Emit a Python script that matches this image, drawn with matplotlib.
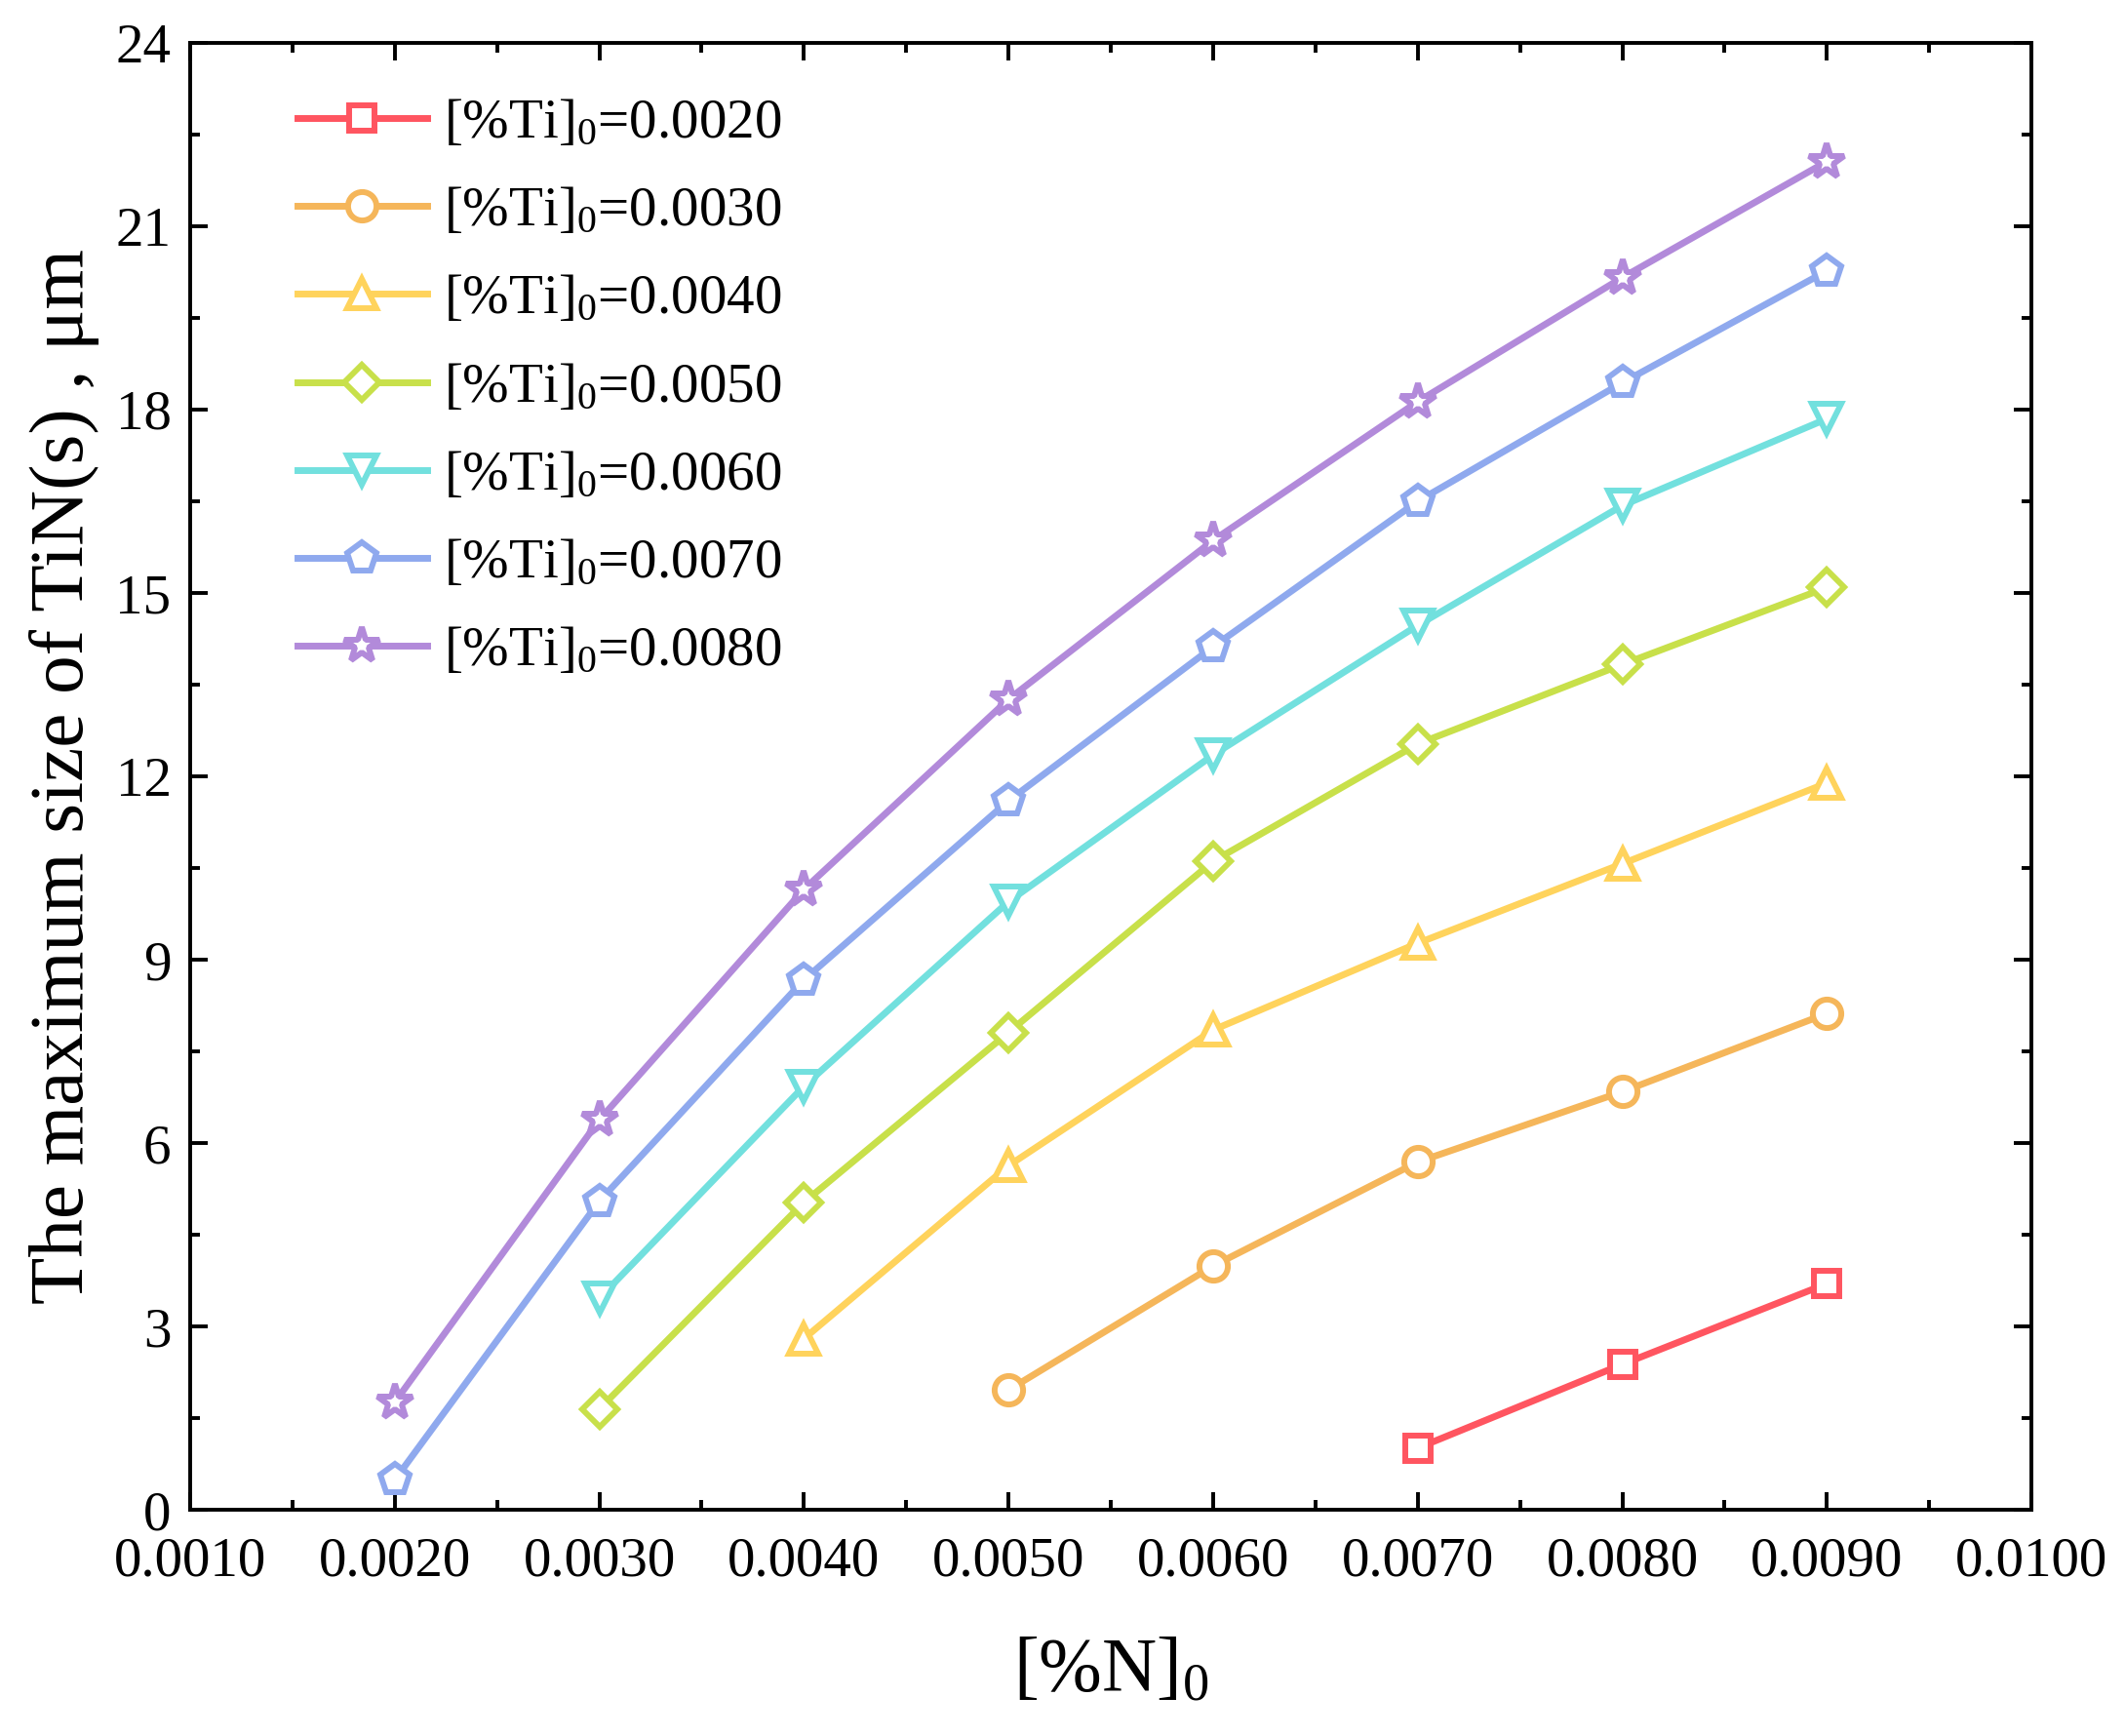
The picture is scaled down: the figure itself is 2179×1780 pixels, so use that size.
import matplotlib
matplotlib.use("Agg")
import matplotlib.pyplot as plt
from matplotlib.ticker import MultipleLocator, FormatStrFormatter

plt.rcParams['font.family'] = ['Liberation Serif', 'DejaVu Serif']
plt.rcParams['mathtext.fontset'] = 'custom'
plt.rcParams['mathtext.rm'] = 'Liberation Serif'
plt.rcParams['mathtext.it'] = 'Liberation Serif:italic'

# dati
n0 = [0.002, 0.003, 0.004, 0.005, 0.006, 0.007, 0.008, 0.009]
ti_labels = ["0.0020", "0.0030", "0.0040", "0.0050", "0.0060", "0.0070", "0.0080"]
ti_0020 = [None, None, None, None, None, 1.01, 2.38, 3.70]
ti_0030 = [None, None, None, 1.96, 3.99, 5.69, 6.84, 8.12]
ti_0040 = [None, None, 2.80, 5.63, 7.85, 9.27, 10.57, 11.89]
ti_0050 = [None, 1.65, 5.03, 7.81, 10.61, 12.53, 13.83, 15.09]
ti_0060 = [None, 3.46, 6.93, 9.95, 12.35, 14.47, 16.43, 17.85]
ti_0070 = [0.49, 5.05, 8.67, 11.60, 14.12, 16.50, 18.44, 20.27]
ti_0080 = [1.76, 6.38, 10.15, 13.26, 15.86, 18.13, 20.16, 22.06]

series = [ti_0020, ti_0030, ti_0040, ti_0050, ti_0060, ti_0070, ti_0080]
colors = ["#FF5560", "#F5B65A", "#FFD35C", "#C8E04A", "#72E0DE", "#8FA9EE", "#B28ADA"]
markers = ["s", "o", "^", "D", "v", "p", "*"]
msizes = [19, 21, 22, 18, 22, 23, 27]

fig = plt.figure(figsize=(21.79, 17.80), dpi=100)
ax = fig.add_axes([0.0895, 0.1303, 0.8665, 0.8450])

for ys, lab, c, m, ms in zip(series, ti_labels, colors, markers, msizes):
    xs = [x for x, y in zip(n0, ys) if y is not None]
    yv = [y for y in ys if y is not None]
    ax.plot(xs, yv, color=c, linewidth=5.0, marker=m, markersize=ms,
            markerfacecolor="white", markeredgecolor=c, markeredgewidth=4.3,
            label=r"[%Ti]$_{\mathrm{0}}$=" + lab, zorder=3)

ax.set_xlim(0.001, 0.010)
ax.set_ylim(0, 24)
ax.xaxis.set_major_locator(MultipleLocator(0.001))
ax.xaxis.set_minor_locator(MultipleLocator(0.0005))
ax.yaxis.set_major_locator(MultipleLocator(3))
ax.yaxis.set_minor_locator(MultipleLocator(1.5))
ax.xaxis.set_major_formatter(FormatStrFormatter("%.4f"))

ax.tick_params(which="both", direction="in", top=True, right=True, labelsize=41, width=2.8)
ax.tick_params(which="major", length=13)
ax.tick_params(which="minor", length=7)
ax.tick_params(axis="x", which="major", pad=20)
ax.tick_params(axis="y", which="major", pad=14)
for sp in ax.spines.values():
    sp.set_linewidth(2.8)

ax.set_xlabel(r"[%N]$_{\mathrm{0}}$", fontsize=56, labelpad=36)
ax.set_ylabel("The maximum size of TiN(s) , μm", fontsize=57, labelpad=12)

ax.legend(loc="upper left", bbox_to_anchor=(0.058, 0.962), frameon=False,
          fontsize=41, handlelength=2.35, handletextpad=0.3, labelspacing=0.67,
          borderpad=0, borderaxespad=0)

plt.savefig("out.png", dpi=100)
